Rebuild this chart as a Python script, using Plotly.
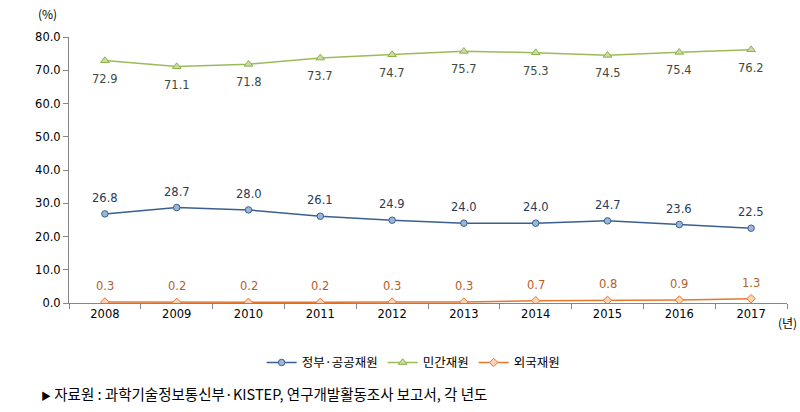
import plotly.graph_objects as go

years = ["2008", "2009", "2010", "2011", "2012", "2013", "2014", "2015", "2016", "2017"]
gov = [26.8, 28.7, 28.0, 26.1, 24.9, 24.0, 24.0, 24.7, 23.6, 22.5]
private = [72.9, 71.1, 71.8, 73.7, 74.7, 75.7, 75.3, 74.5, 75.4, 76.2]
foreign = [0.3, 0.2, 0.2, 0.2, 0.3, 0.3, 0.7, 0.8, 0.9, 1.3]
names = ["정부·공공재원", "민간재원", "외국재원"]

num_font = "DejaVu Sans"
kr_font = "Noto Sans CJK KR"

fig = go.Figure()
fig.add_trace(go.Scatter(
    x=years, y=gov, name=names[0], mode="lines+markers",
    line=dict(color="#3A5F8F", width=1.5),
    marker=dict(symbol="circle", size=6.5, color="#9CB6D8", line=dict(color="#3A5F8F", width=1)),
))
fig.add_trace(go.Scatter(
    x=years, y=private, name=names[1], mode="lines+markers",
    line=dict(color="#9BBB59", width=1.5),
    marker=dict(symbol="triangle-up", size=7.5, color="#C9DCA3", line=dict(color="#8FB04D", width=1)),
))
fig.add_trace(go.Scatter(
    x=years, y=foreign, name=names[2], mode="lines+markers",
    line=dict(color="#E8772E", width=1.5),
    marker=dict(symbol="diamond", size=6.5, color="#FAD3B5", line=dict(color="#E8772E", width=1)),
))

annotations = []
for series, shift, color in [(gov, 16, "#2B3A55"), (private, -18, "#3F4A3A"), (foreign, 16, "#B4602A")]:
    for i, v in enumerate(series):
        annotations.append(dict(
            x=i, y=v, xref="x", yref="y", text=f"{v:.1f}", showarrow=False,
            xanchor="center", yanchor="middle", yshift=shift,
            font=dict(family=num_font, size=11.5, color=color)))

annotations += [
    dict(text="(%)", xref="paper", yref="paper", x=0, xshift=-22, y=1.0, yshift=24,
         showarrow=False, xanchor="center", yanchor="middle",
         font=dict(family=kr_font, size=12, color="#000")),
    dict(text="(년)", xref="paper", yref="paper", x=1.0, xshift=0, y=0, yshift=-19,
         showarrow=False, xanchor="center", yanchor="middle",
         font=dict(family=kr_font, size=12, color="#000")),
    dict(text="<span style='font-size:10px'>▶</span> 자료원 : 과학기술정보통신부·KISTEP, 연구개발활동조사 보고서, 각 년도",
         xref="paper", yref="paper", x=0, xshift=-30, y=0, yshift=-90,
         showarrow=False, xanchor="left", yanchor="middle",
         font=dict(family=kr_font, size=14.5, color="#000")),
]

fig.update_layout(
    width=800, height=412,
    margin=dict(l=69, r=13, t=37, b=109, autoexpand=False),
    paper_bgcolor="white", plot_bgcolor="white",
    showlegend=True,
    legend=dict(orientation="h", x=0.48, xanchor="center", y=-0.225, yanchor="middle",
                font=dict(family=kr_font, size=12.5, color="#000"),
                itemwidth=30, traceorder="normal"),
    xaxis=dict(type="category", range=[-0.5, 9.5], showgrid=False, showline=True,
               linecolor="#868686", linewidth=1, ticks="outside", tickson="boundaries",
               ticklen=5, tickcolor="#868686",
               tickfont=dict(family=num_font, size=11.5, color="#000")),
    yaxis=dict(range=[0, 80], dtick=10, tickformat=".1f", showgrid=False, showline=True,
               linecolor="#868686", linewidth=1, ticks="outside", ticklen=5, tickcolor="#868686",
               tickfont=dict(family=num_font, size=11.5, color="#000"), zeroline=False),
    annotations=annotations,
)

fig.write_html("out.html", config={"displayModeBar": False},
               post_script="document.body.style.margin='0';")
